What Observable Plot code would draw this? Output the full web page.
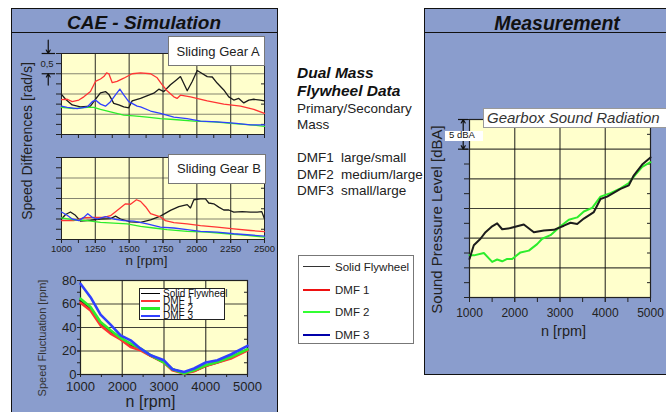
<!DOCTYPE html>
<html>
<head>
<meta charset="utf-8">
<script src="https://cdn.jsdelivr.net/npm/d3@7"></script>
<script src="https://cdn.jsdelivr.net/npm/@observablehq/plot@0.6"></script>
<style>
  html, body { margin: 0; padding: 0; background: #fff; }
  #fig { position: relative; width: 666px; height: 412px; overflow: hidden; background: #fff;
         font-family: "Liberation Sans", Arial, Helvetica, sans-serif; color: #222; }
  #fig div { box-sizing: border-box; }
</style>
</head>
<body>
<div id="fig"></div>
<script>
// ---------------- data ----------------
const series = ["Solid Flywheel", "DMF 1", "DMF 2", "DMF 3"];
const seriesColors = ["#1c1c1c", "#ff3434", "#2ced2c", "#3040ff"];

const dmfNames = ["DMF1", "DMF2", "DMF3"];
const dmfMassRatio = ["large/small", "medium/large", "small/large"];

// Sliding gear A: speed difference [rad/s] over engine speed [rpm]
const gearASolid = [[1000,.99],[1030,.87],[1079,.73],[1140,.68],[1214,.70],[1251,.87],[1288,1.03],[1325,1.06],[1350,.99],[1386,.77],[1423,.73],[1460,.68],[1497,.66],[1522,.83],[1584,.89],[1682,1.02],[1719,1.12],[1756,1.06],[1805,1.23],[1842,1.33],[1879,1.43],[1929,1.08],[1966,1.31],[2003,1.58],[2027,1.53],[2077,1.43],[2114,1.42],[2150,1.27],[2199,1.10],[2236,.93],[2273,.85],[2310,.89],[2347,.78],[2384,.85],[2421,.87],[2470,.85],[2500,.83]];
const gearADmf1 = [[1000,.86],[1042,.87],[1079,.81],[1128,.85],[1165,.93],[1214,1.06],[1251,1.31],[1288,1.37],[1313,1.43],[1333,1.52],[1350,1.50],[1375,1.28],[1411,1.31],[1460,1.39],[1522,1.50],[1584,1.52],[1658,1.50],[1707,1.40],[1743,1.23],[1780,1.08],[1830,.93],[1854,.89],[1879,.97],[1953,.93],[2077,.83],[2199,.75],[2323,.70],[2421,.62],[2500,.52]];
const gearADmf2 = [[1000,.67],[1091,.64],[1190,.67],[1239,.67],[1288,.62],[1362,.56],[1460,.48],[1534,.46],[1633,.43],[1731,.39],[1830,.37],[1978,.33],[2125,.31],[2273,.27],[2397,.24],[2500,.20]];
const gearADmf3 = [[1000,.70],[1042,.67],[1116,.64],[1190,.68],[1227,.81],[1251,.85],[1288,.75],[1325,.70],[1362,.81],[1399,.98],[1431,1.12],[1460,.98],[1497,.81],[1559,.70],[1584,.68],[1658,.58],[1731,.52],[1830,.43],[1928,.39],[2027,.33],[2150,.31],[2273,.28],[2397,.24],[2500,.24]];

// Sliding gear B: speed difference [rad/s] over engine speed [rpm]
const gearBSolid = [[1000,.50],[1030,.61],[1066,.67],[1103,.59],[1140,.45],[1214,.47],[1288,.50],[1362,.51],[1399,.57],[1436,.50],[1510,.43],[1584,.42],[1658,.48],[1731,.57],[1805,.71],[1867,.80],[1929,.85],[1953,.77],[1978,.97],[2027,.99],[2064,.99],[2088,.89],[2125,.87],[2162,.79],[2199,.72],[2236,.72],[2273,.67],[2335,.68],[2397,.67],[2446,.67],[2480,.68],[2500,.50]];
const gearBDmf1 = [[1000,.46],[1091,.46],[1165,.53],[1239,.54],[1313,.54],[1362,.58],[1411,.71],[1473,.87],[1510,.86],[1554,.97],[1584,.93],[1621,.80],[1658,.63],[1731,.55],[1768,.46],[1830,.41],[1928,.38],[2027,.34],[2150,.30],[2273,.26],[2397,.22],[2500,.19]];
const gearBDmf2 = [[1000,.53],[1091,.48],[1190,.46],[1288,.42],[1386,.40],[1485,.38],[1584,.32],[1682,.28],[1780,.24],[1928,.20],[2076,.18],[2224,.14],[2372,.10],[2500,.06]];
const gearBDmf3 = [[1000,.67],[1042,.59],[1079,.50],[1128,.46],[1165,.54],[1194,.63],[1227,.54],[1264,.50],[1325,.56],[1386,.50],[1460,.46],[1534,.45],[1633,.38],[1731,.30],[1830,.28],[1928,.24],[2027,.20],[2150,.18],[2273,.14],[2397,.11],[2500,.08]];

// Speed fluctuation [rpm] over engine speed [rpm]
const fluctRpm   = [1000, 1240, 1480, 1720, 1960, 2200, 2440, 2680, 3000, 3200, 3480, 3720, 4000, 4280, 4600, 5000];
const fluctSolid = [63, 56, 43.5, 36.5, 31, 25, 21.5, 16, 10.5, 4.2, 1.5, 3.2, 7.5, 10.5, 14.5, 21];
const fluctDmf1  = [61, 54.5, 41.8, 34.8, 29.9, 23.4, 20.6, 15.8, 10.2, 3.6, 0.8, 2.8, 7.3, 10.2, 13.6, 20.6];
const fluctDmf2  = [64.5, 57.4, 44.7, 37.6, 31.1, 26.3, 22, 16.4, 10.2, 4.5, 0.8, 3.6, 7.9, 10.7, 14.9, 21.5];
const fluctDmf3  = [77.2, 65.8, 50.9, 42.4, 33.3, 29.1, 22, 16.4, 12.1, 4.5, 2.2, 5.1, 10.2, 12.1, 17, 24.3];

// Measured gearbox sound pressure level [dBA, relative] over engine speed [rpm]
const soundSolid = [[1000,6.5],[1095,8.8],[1243,9.9],[1354,11.0],[1501,12.0],[1611,12.5],[1722,11.5],[1906,11.7],[2200,12.3],[2422,11.0],[2643,11.3],[2864,11.4],[3085,12.1],[3232,12.6],[3380,12.4],[3527,13.3],[3748,14.4],[3895,16.6],[4043,17.0],[4337,18.3],[4521,18.9],[4632,20.6],[4816,22.4],[5000,23.6]];
const soundDmf2  = [[1000,7.1],[1100,7.1],[1317,7.5],[1501,6.0],[1611,6.4],[1722,6.1],[1833,6.5],[1943,6.5],[2127,7.6],[2311,7.9],[2495,9.0],[2606,9.9],[2790,10.5],[3011,12.0],[3195,13.1],[3380,13.5],[3527,14.5],[3711,15.1],[3895,17.0],[4116,17.6],[4337,18.4],[4521,19.3],[4669,20.7],[4816,22.0],[5000,22.8]];

// ---------------- layout helpers ----------------
const fig = document.getElementById("fig");
const FONT = "'Liberation Sans', Arial, Helvetica, sans-serif";
const PANEL_BG = "#8a9dcd";
const PLOT_BG = "#ffffcc";
const colorOf = Object.fromEntries(series.map((s, i) => [s, seriesColors[i]]));

function box(x, y, w, h, css = "") {
  const el = document.createElement("div");
  el.style.cssText = `position:absolute;left:${x}px;top:${y}px;width:${w}px;height:${h}px;${css}`;
  fig.appendChild(el);
  return el;
}

// text placed by its baseline (Liberation Sans metrics)
function label(str, x, base, size, css = "", anchor = "start") {
  const el = document.createElement("div");
  el.textContent = str;
  el.style.cssText = `position:absolute;white-space:pre;line-height:0;font-size:${size}px;left:${x}px;top:${base - 0.3465 * size}px;${css}`;
  if (anchor === "middle") el.style.transform = "translateX(-50%)";
  fig.appendChild(el);
  return el;
}

function chart({frame: [l, t, r, b], xDomain, yDomain, marks}) {
  const svg = Plot.plot({
    width: 666, height: 412,
    marginLeft: l, marginTop: t, marginRight: 666 - r, marginBottom: 412 - b,
    x: {domain: xDomain}, y: {domain: yDomain},
    marks
  });
  Object.assign(svg.style, {position: "absolute", left: "0px", top: "0px", background: "transparent",
    overflow: "visible", maxWidth: "none", fontFamily: FONT, color: "#222"});
  fig.appendChild(svg);
}

const blank = () => "";
const seriesLine = (data, name, w) =>
  Plot.line(data, {x: d => d[0], y: d => d[1], stroke: colorOf[name], strokeWidth: w});
// axis title centred on a point offset from a frame anchor
const axisTitle = (str, frameAnchor, dx, dy, fontSize, extra = {}) =>
  Plot.text([str], {frameAnchor, text: d => d, dx, dy, fontSize, textAnchor: "middle", lineAnchor: "middle", fill: "#222", ...extra});

// ---------------- panels ----------------
box(10.5, 7.5, 267, 430, `background:${PANEL_BG};border:1.5px solid #111;`);
box(423.5, 7.5, 280, 367.5, `background:${PANEL_BG};border:1.5px solid #111;`);
box(11, 31.5, 266, 1.5, "background:#111;");
box(424, 31.5, 260, 1.5, "background:#111;");
label("CAE - Simulation", 144, 30, 19, "font-weight:bold;font-style:italic;color:#111;", "middle");
label("Measurement", 557, 30, 19.5, "font-weight:bold;font-style:italic;color:#111;", "middle");

// ---------------- speed difference charts ----------------
const gearFrameMarks = () => [
  Plot.frame({fill: PLOT_BG, stroke: "none"}),
  Plot.gridX([1250, 1500, 1750, 2000, 2250], {stroke: "#111", strokeOpacity: 0.75, strokeWidth: 1.2}),
  Plot.gridY([0.5, 1, 1.5], {stroke: "#333", strokeOpacity: 0.6, strokeWidth: 1.2}),
  Plot.axisY(d3.range(0, 2.01, 0.25), {tickSize: 5, tickFormat: blank, label: null}),
  Plot.axisY(d3.range(0.25, 2, 0.5), {anchor: "right", tickSize: -4, tickFormat: blank, label: null}),
  Plot.axisX(d3.range(1000, 2501, 125), {tickSize: 4, tickFormat: blank, label: null}),
  Plot.frame({stroke: "#222", strokeWidth: 1})
];

chart({
  frame: [61, 53, 264, 134], xDomain: [1000, 2500], yDomain: [0, 2],
  marks: [
    ...gearFrameMarks(),
    seriesLine(gearASolid, series[0], 1.3),
    seriesLine(gearADmf1, series[1], 1.3),
    seriesLine(gearADmf2, series[2], 1.3),
    seriesLine(gearADmf3, series[3], 1.3),
    // 0,5 rad/s scale bar left of the plot
    Plot.ruleY([2, 1.5], {x1: 857, x2: 956, stroke: "#111", strokeWidth: 1.2}),
    Plot.arrow([0], {x: 902, y1: 2.33, y2: 2.0, stroke: "#111", strokeWidth: 1.2, headLength: 5}),
    Plot.arrow([0], {x: 902, y1: 1.22, y2: 1.5, stroke: "#111", strokeWidth: 1.2, headLength: 5}),
    Plot.text(["0,5"], {x: 893, y: 1.75, text: d => d, fontSize: 9.5, fill: "#222"}),
    axisTitle("Speed Differences [rad/s]", "left", -33.5, 47, 14, {rotate: -90})
  ]
});

chart({
  frame: [61, 157, 264, 239], xDomain: [1000, 2500], yDomain: [0, 2],
  marks: [
    ...gearFrameMarks(),
    Plot.axisX([1000, 1250, 1500, 1750, 2000, 2250, 2500],
      {tickSize: 4, tickPadding: 1.5, fontSize: 9.5, tickFormat: d3.format("d"), label: null}),
    seriesLine(gearBSolid, series[0], 1.3),
    seriesLine(gearBDmf1, series[1], 1.3),
    seriesLine(gearBDmf2, series[2], 1.3),
    seriesLine(gearBDmf3, series[3], 1.3),
    axisTitle("n [rpm]", "bottom", -16.5, 21, 13.5)
  ]
});

// ---------------- speed fluctuation chart ----------------
const fluctTable = fluctRpm.map((rpm, i) => ({rpm, values: [fluctSolid[i], fluctDmf1[i], fluctDmf2[i], fluctDmf3[i]]}));
chart({
  frame: [80, 280, 247, 374], xDomain: [1000, 5000], yDomain: [0, 80],
  marks: [
    Plot.frame({fill: PLOT_BG, stroke: "none"}),
    Plot.gridX([2000, 3000, 4000], {stroke: "#111", strokeOpacity: 0.8, strokeWidth: 1.2}),
    Plot.gridY([20, 40, 60], {stroke: "#111", strokeOpacity: 0.8, strokeWidth: 1.2}),
    Plot.axisY(d3.range(0, 81, 10), {tickSize: 3, tickFormat: blank, label: null}),
    Plot.axisY([0, 20, 40, 60, 80], {tickSize: 3, tickPadding: 1, fontSize: 13, tickFormat: d3.format("d"), label: null}),
    Plot.axisY(d3.range(10, 80, 20), {anchor: "right", tickSize: -4, tickFormat: blank, label: null}),
    Plot.axisX(d3.range(1000, 5001, 500), {tickSize: 3, tickFormat: blank, label: null}),
    Plot.axisX([1000, 2000, 3000, 4000, 5000], {tickSize: 3, tickPadding: 4, fontSize: 13, tickFormat: d3.format("d"), label: null}),
    Plot.frame({stroke: "#222", strokeWidth: 1.2}),
    ...series.map((name, k) => Plot.line(fluctTable, {x: "rpm", y: d => d.values[k], stroke: colorOf[name], strokeWidth: 2.6})),
    axisTitle("Speed Fluctuation [rpm]", "left", -38, 10.5, 11, {rotate: -90, fill: "#333"}),
    axisTitle("n [rpm]", "bottom", -13.5, 27, 16)
  ]
});

// ---------------- sound pressure chart ----------------
chart({
  frame: [469, 119, 650, 297], xDomain: [1000, 5000], yDomain: [0, 30],
  marks: [
    Plot.frame({fill: PLOT_BG, stroke: "none"}),
    Plot.gridX([2000, 3000, 4000], {stroke: "#111", strokeOpacity: 0.8, strokeWidth: 1.2}),
    Plot.gridY([5, 10, 15, 20, 25], {stroke: "#111", strokeOpacity: 0.8, strokeWidth: 1.2}),
    Plot.axisY(d3.range(0, 30.1, 2.5), {tickSize: 5, tickFormat: blank, label: null}),
    Plot.axisY(d3.range(2.5, 30, 5), {anchor: "right", tickSize: -4, tickFormat: blank, label: null}),
    Plot.axisX(d3.range(1000, 5001, 500), {tickSize: 5, tickFormat: blank, label: null}),
    Plot.axisX([1000, 2000, 3000, 4000, 5000], {tickSize: 5, tickPadding: 6, fontSize: 12, tickFormat: d3.format("d"), label: null}),
    Plot.frame({stroke: "#222", strokeWidth: 1.2}),
    seriesLine(soundDmf2, series[2], 2),
    seriesLine(soundSolid, series[0], 2),
    // 5 dBA scale bar
    Plot.ruleY([30, 25], {x1: 757, x2: 978, stroke: "#111", strokeWidth: 1.2}),
    Plot.arrow([0], {x: 861, y1: 27.5, y2: 30, stroke: "#111", strokeWidth: 1.2, headLength: 5}),
    Plot.arrow([0], {x: 861, y1: 27.5, y2: 25, stroke: "#111", strokeWidth: 1.2, headLength: 5}),
    axisTitle("Sound Pressure Level [dBA]", "left", -32, 11, 15, {rotate: -90}),
    axisTitle("n [rpm]", "bottom", 3.5, 34, 14.5)
  ]
});

// ---------------- boxed annotations ----------------
box(168, 36, 97, 30, "background:#fff;border:1px solid #777;");
label("Sliding Gear A", 176.5, 56.7, 13, "color:#222;");
box(168, 154, 98, 29.5, "background:#fff;border:1px solid #777;");
label("Sliding Gear B", 177, 174, 13, "color:#222;");

box(483, 108, 200, 19.5, "background:#fff;border:1px solid #999;");
label("Gearbox Sound Radiation", 487, 123.3, 15, "font-style:italic;color:#333;");
box(445, 130.5, 37.5, 10.5, "background:#fff;");
label("5 dBA", 449, 138.5, 9.5, "color:#111;");

// legend inside the fluctuation chart (rows packed tightly)
box(139, 288, 86, 31.5, "background:#fff;border:1px solid #222;");
[293.7, 301, 308.5, 316].forEach((cy, i) => {
  const w = i === 0 ? 1.5 : 2.5;
  box(141, cy - w / 2, 19, w, `background:${i === 0 ? "#000" : seriesColors[i]};`);
  label(series[i], 163, cy + 3.6, 10, "color:#111;");
});

// ---------------- flywheel description ----------------
label("Dual Mass", 297, 78.3, 15.5, "font-weight:bold;font-style:italic;color:#111;");
label("Flywheel Data", 297, 96, 15.5, "font-weight:bold;font-style:italic;color:#111;");
label("Primary/Secondary", 297, 114, 13.5, "color:#222;");
label("Mass", 297, 130, 13.5, "color:#222;");
dmfNames.forEach((n, i) => {
  const base = 162.7 + i * 16.65;
  label(n, 297, base, 13.5, "color:#222;");
  label(dmfMassRatio[i], 341, base, 13.5, "color:#222;");
});

// shared legend
box(298, 254.5, 116, 89, "background:#fff;border:1px solid #777;");
const legendStroke = [["#333", 1.2], ["#ee1111", 1.2], ["#33ff33", 2.4], ["#0000aa", 1.2]];
[266.7, 290, 311.7, 335].forEach((cy, i) => {
  const [c, w] = legendStroke[i];
  box(303, cy - w / 2, 27, w, `background:${c};`);
  label(series[i], 335, cy + 4.1, 11.5, "color:#222;");
});
</script>
</body>
</html>
